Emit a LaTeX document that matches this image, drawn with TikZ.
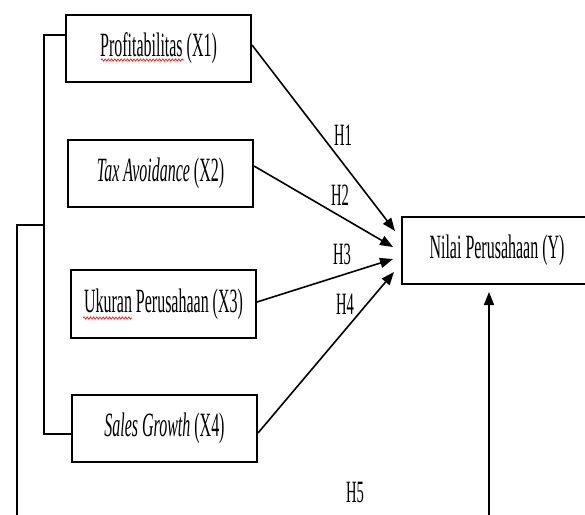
\documentclass[tikz,border=0pt]{standalone}
\usepackage{fontspec}
\setmainfont{Liberation Serif}
\newfontfamily\tnr[FakeStretch=0.47]{Liberation Serif}
\usetikzlibrary{arrows.meta,decorations.pathmorphing}
\tikzset{
  varbox/.style={draw, line width=2pt, minimum width=185pt, minimum height=67pt, inner sep=0pt,
    font=\tnr\fontsize{34}{40}\selectfont},
  hlabel/.style={inner sep=0pt, font=\tnr\fontsize{31}{36}\selectfont},
  link/.style={line width=1.6pt},
  arr/.style={line width=1.6pt, -{Triangle[length=13pt,width=10pt]}},
  spell/.style={red, line width=0.6pt, decorate, decoration={snake, amplitude=1.2pt, segment length=3.2pt}}
}
\begin{document}
\begin{tikzpicture}[x=1pt,y=-1pt]
\clip (0,0) rectangle (585,514);
\fill[white] (0,0) rectangle (585,514);
\node[varbox] (x1) at (158.5,48.5) {Profitabilitas (X1)};
\node[varbox] (x2) at (160.5,173.5) {\textit{Tax Avoidance} (X2)};
\node[varbox, minimum height=68pt] (x3) at (163.5,304) {Ukuran Perusahaan (X3)};
\node[varbox] (x4) at (164.5,428.5) {\textit{Sales Growth} (X4)};
\node[varbox, minimum width=190pt] (y) at (497,250.5) {Nilai Perusahaan (Y)};

% spell-check marks
\draw[spell] (101,60) -- (184,60);
\draw[spell] (83,318) -- (132,318);

% arrow targets
\coordinate (t1) at (395,231);
\coordinate (t2) at (393,247);
\coordinate (t3) at (393,259);
\coordinate (t4) at (394,272);
\draw[arr] ([yshift=3.5pt]x1.east) -- (t1);
\draw[arr] ([yshift=7.5pt]x2.east) -- (t2);
\draw[arr] ([yshift=2pt]x3.east) -- (t3);
\draw[arr] ([yshift=-4.5pt]x4.east) -- (t4);

\node[hlabel] (h1) at (343,135) {H1};
\node[hlabel] (h2) at (340,195) {H2};
\node[hlabel] (h3) at (342,254) {H3};
\node[hlabel] (h4) at (345,304) {H4};
\node[hlabel] (h5) at (355,492) {H5};

% bracket
\coordinate (bt) at (44,35);
\coordinate (bb) at (44,434);
\coordinate (bm) at (44,225);
\coordinate (ol) at (17,225);
\coordinate (od) at (17,520);
\draw[link] (x1.west |- bt) -- (bt) -- (bb) -- (x4.west |- bb);
\draw[link] (bm) -- (ol) -- (od);

% vertical arrow into Y
\coordinate (vb) at (489,520);
\coordinate (vt) at (489,292);
\draw[arr] (vb) -- (vt);
\end{tikzpicture}
\end{document}
